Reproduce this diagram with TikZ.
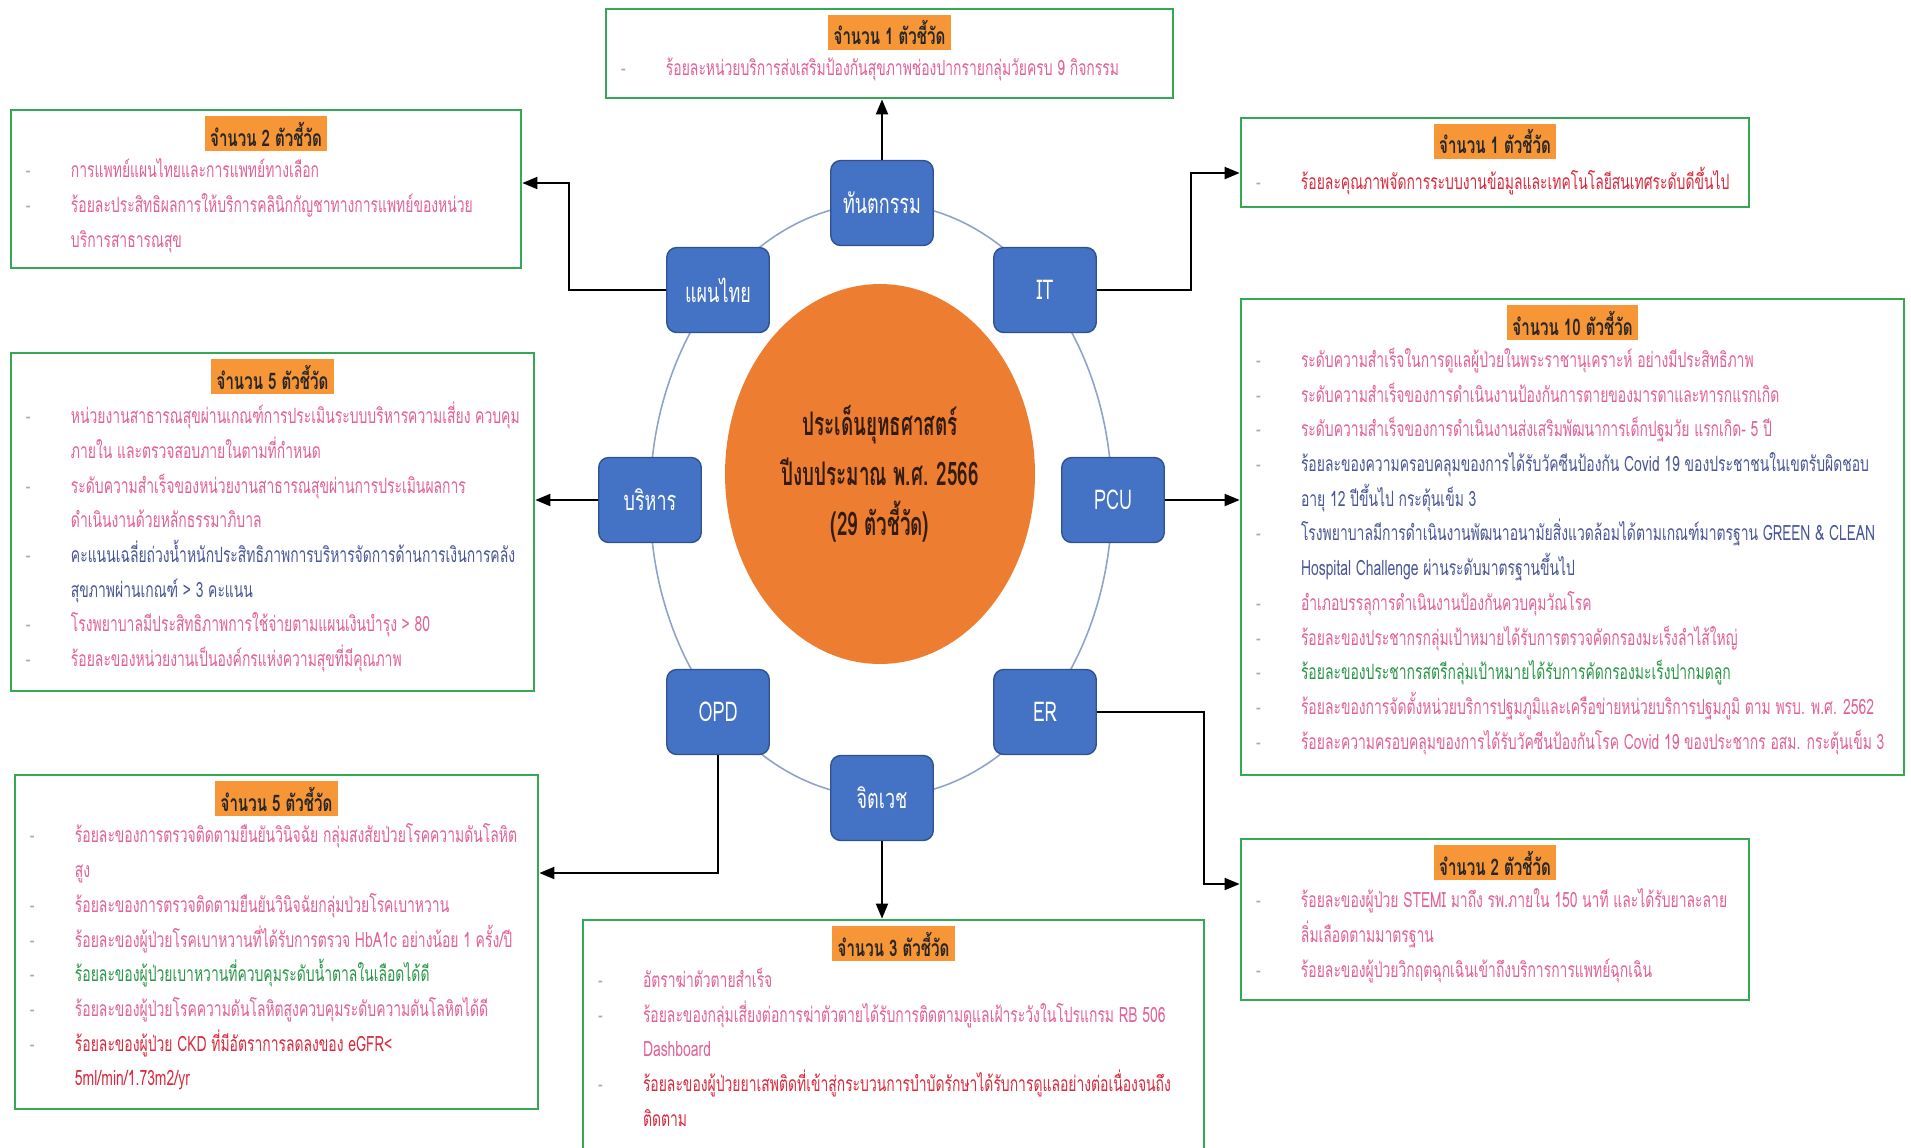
\documentclass[tikz,border=0pt]{standalone}
\usepackage{fontspec}
\usepackage{tikz}
\usetikzlibrary{arrows.meta,positioning,shapes.geometric}
\newfontfamily\thaifont[Script=Thai,FakeStretch=0.66]{Loma}
\newfontfamily\hubfont[Script=Thai,FakeStretch=0.58]{Loma}
\definecolor{kpigreen}{RGB}{52,168,83}
\definecolor{headorange}{RGB}{246,150,54}
\definecolor{hubfill}{RGB}{237,125,49}
\definecolor{unitfill}{RGB}{68,114,196}
\definecolor{unitline}{RGB}{47,82,143}
\definecolor{ringline}{RGB}{143,163,201}
\definecolor{kpipink}{RGB}{226,96,152}
\definecolor{kpired}{RGB}{218,40,60}
\definecolor{kpiblue}{RGB}{72,86,150}
\definecolor{kpigrn}{RGB}{40,150,70}
\definecolor{dashgray}{RGB}{170,170,170}
\tikzset{>/.tip={Triangle[length=0.3cm,width=0.24cm]}}
\tikzset{unit/.style={rectangle,rounded corners=0.2cm,fill=unitfill,draw=unitline,line width=0.8pt,
    minimum width=2.05cm,minimum height=1.7cm,text=white,font=\thaifont\fontsize{15.5}{18}\selectfont}}
\tikzset{kpibox/.style={rectangle,draw=kpigreen,line width=1.6pt,inner sep=0pt}}
\tikzset{kpihead/.style={fill=headorange,inner xsep=3pt,inner ysep=0pt,minimum height=0.7cm,
    text=black!85,font=\thaifont\bfseries\fontsize{13}{15}\selectfont}}
\tikzset{kpilist/.style={align=left,inner sep=0pt,font=\thaifont\fontsize{12}{19.75}\selectfont}}
\newcommand\kpi[2]{\makebox[0.9cm][l]{\textcolor{dashgray}{-}}\textcolor{#1}{#2}}
\newcommand\kpicont[2]{\hspace*{0.9cm}\textcolor{#1}{#2}}
\begin{document}
\begin{tikzpicture}[x=0.02cm,y=-0.02cm]
  \useasboundingbox (0,0) rectangle (1911,1147);
  % ring and hub
  \node(ring)[ellipse,draw=ringline,line width=0.9pt,minimum width=9.24cm,minimum height=11.88cm] at (881,500) {};
  \node(hub)[ellipse,fill=hubfill,minimum width=6.2cm,minimum height=7.6cm,inner sep=0pt,align=center,
    text={rgb,255:red,50;green,28;blue,15},font=\hubfont\bfseries\fontsize{18.5}{28.5}\selectfont] at (880,474)
    {ประเด็นยุทธศาสตร์\\ปีงบประมาณ พ.ศ. 2566\\(29 ตัวชี้วัด)};
  % units
  \node(dental)[unit] at (882,203) {ทันตกรรม};
  \node(thaimed)[unit] at (718,290) {แผนไทย};
  \node(it)[unit] at (1045,290) {IT};
  \node(admin)[unit] at (650,500) {บริหาร};
  \node(pcu)[unit] at (1113,500) {PCU};
  \node(opd)[unit] at (718,712) {OPD};
  \node(er)[unit] at (1045,712) {ER};
  \node(psych)[unit] at (882,798) {จิตเวช};
  % indicator boxes
  \node(tbox)[kpibox,minimum width=11.34cm,minimum height=1.78cm] at (889.5,53.5) {};
  \node(thd)[kpihead,below=0.15cm of tbox.north] {จำนวน 1 ตัวชี้วัด};
  \node(tlist)[kpilist,below right=1.0cm and 0.32cm of tbox.north west]
    {\kpi{kpipink}{ร้อยละหน่วยบริการส่งเสริมป้องกันสุขภาพช่องปากรายกลุ่มวัยครบ 9 กิจกรรม}};

  \node(tlbox)[kpibox,minimum width=10.2cm,minimum height=3.16cm] at (266,189) {};
  \node(tlhd)[kpihead,below=0.15cm of tlbox.north] {จำนวน 2 ตัวชี้วัด};
  \node(tllist)[kpilist,below right=1.0cm and 0.32cm of tlbox.north west]
    {\kpi{kpipink}{การแพทย์แผนไทยและการแพทย์ทางเลือก}\\
     \kpi{kpipink}{ร้อยละประสิทธิผลการให้บริการคลินิกกัญชาทางการแพทย์ของหน่วย}\\
     \kpicont{kpipink}{บริการสาธารณสุข}};

  \node(trbox)[kpibox,minimum width=10.16cm,minimum height=1.78cm] at (1495,162.5) {};
  \node(trhd)[kpihead,below=0.15cm of trbox.north] {จำนวน 1 ตัวชี้วัด};
  \node(trlist)[kpilist,below right=1.0cm and 0.32cm of trbox.north west]
    {\kpi{kpired}{ร้อยละคุณภาพจัดการระบบงานข้อมูลและเทคโนโลยีสนเทศระดับดีขึ้นไป}};

  \node(rbox)[kpibox,minimum width=13.26cm,minimum height=9.52cm] at (1572.5,537) {};
  \node(rhd)[kpihead,below=0.15cm of rbox.north] {จำนวน 10 ตัวชี้วัด};
  \node(rlist)[kpilist,below right=1.0cm and 0.32cm of rbox.north west]
    {\kpi{kpipink}{ระดับความสำเร็จในการดูแลผู้ป่วยในพระราชานุเคราะห์ อย่างมีประสิทธิภาพ}\\
     \kpi{kpipink}{ระดับความสำเร็จของการดำเนินงานป้องกันการตายของมารดาและทารกแรกเกิด}\\
     \kpi{kpipink}{ระดับความสำเร็จของการดำเนินงานส่งเสริมพัฒนาการเด็กปฐมวัย แรกเกิด- 5 ปี}\\
     \kpi{kpiblue}{ร้อยละของความครอบคลุมของการได้รับวัคซีนป้องกัน Covid 19 ของประชาชนในเขตรับผิดชอบ}\\
     \kpicont{kpiblue}{อายุ 12 ปีขึ้นไป กระตุ้นเข็ม 3}\\
     \kpi{kpiblue}{โรงพยาบาลมีการดำเนินงานพัฒนาอนามัยสิ่งแวดล้อมได้ตามเกณฑ์มาตรฐาน GREEN \& CLEAN}\\
     \kpicont{kpiblue}{Hospital Challenge ผ่านระดับมาตรฐานขึ้นไป}\\
     \kpi{kpipink}{อำเภอบรรลุการดำเนินงานป้องกันควบคุมวัณโรค}\\
     \kpi{kpipink}{ร้อยละของประชากรกลุ่มเป้าหมายได้รับการตรวจคัดกรองมะเร็งลำไส้ใหญ่}\\
     \kpi{kpigrn}{ร้อยละของประชากรสตรีกลุ่มเป้าหมายได้รับการคัดกรองมะเร็งปากมดลูก}\\
     \kpi{kpipink}{ร้อยละของการจัดตั้งหน่วยบริการปฐมภูมิและเครือข่ายหน่วยบริการปฐมภูมิ ตาม พรบ. พ.ศ. 2562}\\
     \kpi{kpipink}{ร้อยละความครอบคลุมของการได้รับวัคซีนป้องกันโรค Covid 19 ของประชากร อสม. กระตุ้นเข็ม 3}};

  \node(lbox)[kpibox,minimum width=10.46cm,minimum height=6.76cm] at (272.5,522) {};
  \node(lhd)[kpihead,below=0.15cm of lbox.north] {จำนวน 5 ตัวชี้วัด};
  \node(llist)[kpilist,below right=1.0cm and 0.32cm of lbox.north west]
    {\kpi{kpipink}{หน่วยงานสาธารณสุขผ่านเกณฑ์การประเมินระบบบริหารความเสี่ยง ควบคุม}\\
     \kpicont{kpipink}{ภายใน และตรวจสอบภายในตามที่กำหนด}\\
     \kpi{kpipink}{ระดับความสำเร็จของหน่วยงานสาธารณสุขผ่านการประเมินผลการ}\\
     \kpicont{kpipink}{ดำเนินงานด้วยหลักธรรมาภิบาล}\\
     \kpi{kpiblue}{คะแนนเฉลี่ยถ่วงน้ำหนักประสิทธิภาพการบริหารจัดการด้านการเงินการคลัง}\\
     \kpicont{kpiblue}{สุขภาพผ่านเกณฑ์ > 3 คะแนน}\\
     \kpi{kpipink}{โรงพยาบาลมีประสิทธิภาพการใช้จ่ายตามแผนเงินบำรุง > 80}\\
     \kpi{kpipink}{ร้อยละของหน่วยงานเป็นองค์กรแห่งความสุขที่มีคุณภาพ}};

  \node(blbox)[kpibox,minimum width=10.46cm,minimum height=6.68cm] at (276.5,942) {};
  \node(blhd)[kpihead,below=0.15cm of blbox.north] {จำนวน 5 ตัวชี้วัด};
  \node(bllist)[kpilist,below right=1.0cm and 0.32cm of blbox.north west]
    {\kpi{kpipink}{ร้อยละของการตรวจติดตามยืนยันวินิจฉัย กลุ่มสงสัยป่วยโรคความดันโลหิต}\\
     \kpicont{kpipink}{สูง}\\
     \kpi{kpipink}{ร้อยละของการตรวจติดตามยืนยันวินิจฉัยกลุ่มป่วยโรคเบาหวาน}\\
     \kpi{kpipink}{ร้อยละของผู้ป่วยโรคเบาหวานที่ได้รับการตรวจ HbA1c อย่างน้อย 1 ครั้ง/ปี}\\
     \kpi{kpigrn}{ร้อยละของผู้ป่วยเบาหวานที่ควบคุมระดับน้ำตาลในเลือดได้ดี}\\
     \kpi{kpipink}{ร้อยละของผู้ป่วยโรคความดันโลหิตสูงควบคุมระดับความดันโลหิตได้ดี}\\
     \kpi{kpired}{ร้อยละของผู้ป่วย CKD ที่มีอัตราการลดลงของ eGFR<}\\
     \kpicont{kpired}{5ml/min/1.73m2/yr}};

  \node(bbox)[kpibox,minimum width=12.42cm,minimum height=4.64cm] at (893.5,1036) {};
  \node(bhd)[kpihead,below=0.15cm of bbox.north] {จำนวน 3 ตัวชี้วัด};
  \node(blist)[kpilist,below right=0.98cm and 0.32cm of bbox.north west]
    {\kpi{kpipink}{อัตราฆ่าตัวตายสำเร็จ}\\
     \kpi{kpipink}{ร้อยละของกลุ่มเสี่ยงต่อการฆ่าตัวตายได้รับการติดตามดูแลเฝ้าระวังในโปรแกรม RB 506}\\
     \kpicont{kpipink}{Dashboard}\\
     \kpi{kpired}{ร้อยละของผู้ป่วยยาเสพติดที่เข้าสู่กระบวนการบำบัดรักษาได้รับการดูแลอย่างต่อเนื่องจนถึง}\\
     \kpicont{kpired}{ติดตาม}};

  \node(brbox)[kpibox,minimum width=10.16cm,minimum height=3.22cm] at (1495,919.5) {};
  \node(brhd)[kpihead,below=0.15cm of brbox.north] {จำนวน 2 ตัวชี้วัด};
  \node(brlist)[kpilist,below right=1.02cm and 0.32cm of brbox.north west]
    {\kpi{kpipink}{ร้อยละของผู้ป่วย STEMI มาถึง รพ.ภายใน 150 นาที และได้รับยาละลาย}\\
     \kpicont{kpipink}{ลิ่มเลือดตามมาตรฐาน}\\
     \kpi{kpipink}{ร้อยละของผู้ป่วยวิกฤตฉุกเฉินเข้าถึงบริการการแพทย์ฉุกเฉิน}};

  % connectors
  \coordinate(tlbend) at (569,183);
  \coordinate(itbend) at (1191,173);
  \coordinate(opdbend) at (718,873);
  \coordinate(erbend) at (1204,884);
  \draw[line width=1.1pt,->]
    (dental.north) -- (dental.north |- tbox.south);
  \draw[line width=1.1pt,->]
    (thaimed.west) -- (tlbend |- thaimed.west) -- (tlbend) -- (tlbend -| tlbox.east);
  \draw[line width=1.1pt,->]
    (it.east) -- (itbend |- it.east) -- (itbend) -- (itbend -| trbox.west);
  \draw[line width=1.1pt,->]
    (admin.west) -- (admin.west -| lbox.east);
  \draw[line width=1.1pt,->]
    (pcu.east) -- (pcu.east -| rbox.west);
  \draw[line width=1.1pt,->]
    (opd.south) -- (opdbend) -- (opdbend -| blbox.east);
  \draw[line width=1.1pt,->]
    (psych.south) -- (psych.south |- bbox.north);
  \draw[line width=1.1pt,->]
    (er.east) -- (erbend |- er.east) -- (erbend) -- (erbend -| brbox.west);
\end{tikzpicture}
\end{document}
